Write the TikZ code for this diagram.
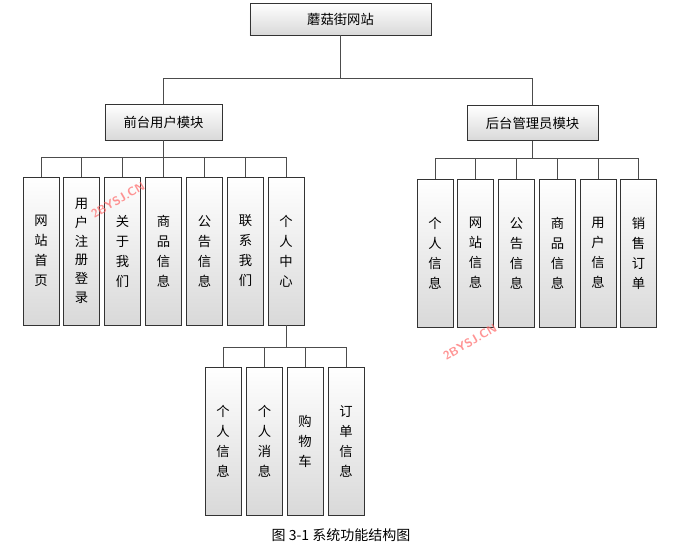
\documentclass[tikz,border=0pt]{standalone}
\usepackage{fontspec}
\newfontfamily\cjk{Noto Sans CJK SC}
\begin{document}
\begin{tikzpicture}[x=0.75pt,y=-0.75pt,
  box/.style={draw=black!80,top color=white,bottom color=gray!30,font=\cjk\fontsize{10}{15}\selectfont,inner sep=0pt},
  vbox/.style={box,minimum width=27pt,minimum height=111pt,align=center},
  ln/.style={draw=black!70,line width=0.6pt},
  wm/.style={text=red!60,font=\sffamily\bfseries\fontsize{9}{10}\selectfont,rotate=30,opacity=0.7}]
\useasboundingbox (0,0) rectangle (683,558);
\node[box,minimum width=136pt,minimum height=24pt] (root) at (340.5,19) {蘑菇街网站};
\node[box,minimum width=88pt,minimum height=27pt] (f) at (163.5,122) {前台用户模块};
\node[box,minimum width=98pt,minimum height=26pt] (b) at (532.5,123) {后台管理员模块};
\coordinate (rj) at (340.5,78);
\draw[ln] (root.south) -- (rj) -| (f.north);
\draw[ln] (rj) -| (b.north);
% front
\foreach \n/\x/\t in {f1/41/网\\站\\首\\页, f3/122.5/关\\于\\我\\们, f4/163.5/商\\品\\信\\息, f5/204.5/公\\告\\信\\息, f6/245.5/联\\系\\我\\们, f7/286/个\\人\\中\\心}{
  \node[vbox] (\n) at (\x,251) {\t};
}
\node[vbox,font=\cjk\fontsize{10}{14}\selectfont] (f2) at (81.5,251) {用\\户\\注\\册\\登\\录};
\coordinate (fb) at (163.5,157);
\draw[ln] (f.south) -- (fb);
\foreach \n in {f1,f2,f3,f4,f5,f6,f7}{\draw[ln] (\n.north) |- (fb);}
% back
\foreach \n/\x/\t in {b1/435/个\\人\\信\\息, b2/475.5/网\\站\\信\\息, b3/516.5/公\\告\\信\\息, b4/557.5/商\\品\\信\\息, b5/598/用\\户\\信\\息, b6/638.5/销\\售\\订\\单}{
  \node[vbox] (\n) at (\x,253) {\t};
}
\coordinate (bb) at (532.5,158);
\draw[ln] (b.south) -- (bb);
\foreach \n in {b1,b2,b3,b4,b5,b6}{\draw[ln] (\n.north) |- (bb);}
% personal
\foreach \n/\x/\t in {p1/223/个\\人\\信\\息, p2/264.5/个\\人\\消\\息, p3/305/购\\物\\车, p4/346/订\\单\\信\\息}{
  \node[vbox] (\n) at (\x,441) {\t};
}
\coordinate (pb) at (286,347);
\draw[ln] (f7.south) -- (pb);
\foreach \n in {p1,p2,p3,p4}{\draw[ln] (\n.north) |- (pb);}
\node[font=\cjk\fontsize{10.5}{12}\selectfont] (cap) at (341,535) {图 3-1 系统功能结构图};
\node[wm] (w1) at (118,200) {2BYSJ.CN};
\node[wm] (w2) at (470,342) {2BYSJ.CN};
\end{tikzpicture}
\end{document}
